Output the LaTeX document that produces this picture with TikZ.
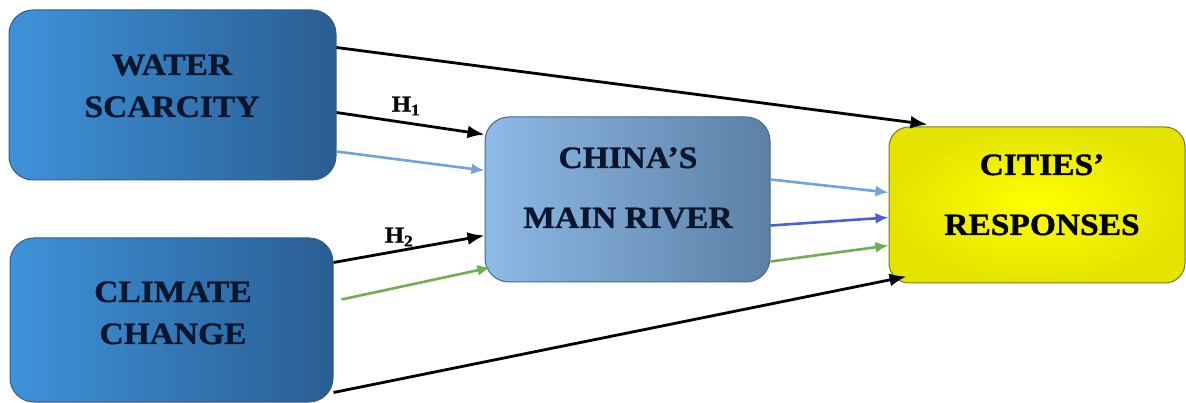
\documentclass[tikz,border=0pt]{standalone}
\usepackage{fontspec}
\setmainfont{Liberation Serif}[FakeStretch=1.08, BoldFeatures={FakeBold=1.2}]
\usetikzlibrary{arrows.meta,calc}
\definecolor{wsL}{RGB}{62,146,218}
\definecolor{wsR}{RGB}{42,94,146}
\definecolor{wsB}{RGB}{52,92,135}
\definecolor{crL}{RGB}{142,186,230}
\definecolor{crR}{RGB}{92,128,165}
\definecolor{crB}{RGB}{70,105,140}
\definecolor{yIn}{RGB}{255,255,0}
\definecolor{yOut}{RGB}{228,228,0}
\definecolor{yB}{RGB}{120,120,40}
\definecolor{navy}{RGB}{10,22,45}
\definecolor{lblue}{RGB}{110,165,220}
\definecolor{mblue}{RGB}{75,95,215}
\definecolor{lgreen}{RGB}{110,175,80}
\tikzset{
  bluebox/.style={draw=wsB, line width=1pt, rounded corners=24pt, left color=wsL, right color=wsR, inner sep=0pt},
  riverbox/.style={draw=crB, line width=1pt, rounded corners=24pt, shading=axis, shading angle=-60, left color=crL, right color=crR, inner sep=0pt},
  citybox/.style={draw=yB, line width=1pt, rounded corners=20pt, inner color=yIn, outer color=yOut, inner sep=0pt},
  boxtext/.style={anchor=base, font=\fontsize{31}{31}\selectfont\bfseries, text=navy, inner sep=0pt},
  htext/.style={font=\fontsize{23}{23}\selectfont\bfseries, inner sep=0pt},
  blk/.style={line width=2.8pt, draw=black, -{Latex[length=17pt,width=13pt]}},
  col/.style={line width=2.6pt, -{Latex[length=13pt,width=11pt]}},
}
\begin{document}
\begin{tikzpicture}[x=1pt,y=-1pt]
\useasboundingbox (0,0) rectangle (1186,403);
% boxes
\node[bluebox, minimum width=327pt, minimum height=170pt] (ws) at (172.5,95) {};
\node[bluebox, minimum width=323pt, minimum height=164pt] (cc) at (171.5,320) {};
\node[riverbox, minimum width=285pt, minimum height=165pt] (cr) at (627.5,199.5) {};
\node[citybox, minimum width=296pt, minimum height=156pt] (cit) at (1037,205) {};
% texts
\node[boxtext] (t1) at (172,75) {WATER};
\node[boxtext] (t2) at (172,117) {SCARCITY};
\node[boxtext] (t3) at (173,302) {CLIMATE};
\node[boxtext] (t4) at (173,344) {CHANGE};
\node[boxtext] (t5) at (628,168) {CHINA’S};
\node[boxtext] (t6) at (628,228) {MAIN RIVER};
\node[boxtext, text=black] (t7) at (1042,175) {CITIES’};
\node[boxtext, text=black] (t8) at (1042,235) {RESPONSES};
% arrows from water scarcity
\draw[blk] ([yshift=-38pt]ws.north east) -- ([xshift=39pt,yshift=2pt]cit.north west);
\draw[blk] ([yshift=-103pt]ws.north east) -- ([yshift=-18pt]cr.north west);
\draw[col, draw=lblue] ([yshift=-142pt]ws.north east) -- ([yshift=-54pt]cr.north west);
% arrows from climate change
\draw[blk] ([yshift=-25pt]cc.north east) -- ([yshift=-119pt]cr.north west);
\draw[col, draw=lgreen] ([xshift=8pt,yshift=-62pt]cc.north east) -- ([xshift=6pt,yshift=-151pt]cr.north west);
\draw[blk] ([yshift=-155pt]cc.north east) -- ([xshift=18pt,yshift=-150pt]cit.north west);
% arrows from river
\draw[col, draw=lblue] ([yshift=-63pt]cr.north east) -- ([yshift=-66pt]cit.north west);
\draw[col, draw=mblue] ([yshift=-109pt]cr.north east) -- ([yshift=-91pt]cit.north west);
\draw[col, draw=lgreen] ([yshift=-145pt]cr.north east) -- ([yshift=-119pt]cit.north west);
% labels
\node[htext] (h1) at (406,106) {H\textsubscript{1}};
\node[htext] (h2) at (399,237) {H\textsubscript{2}};
\end{tikzpicture}
\end{document}
